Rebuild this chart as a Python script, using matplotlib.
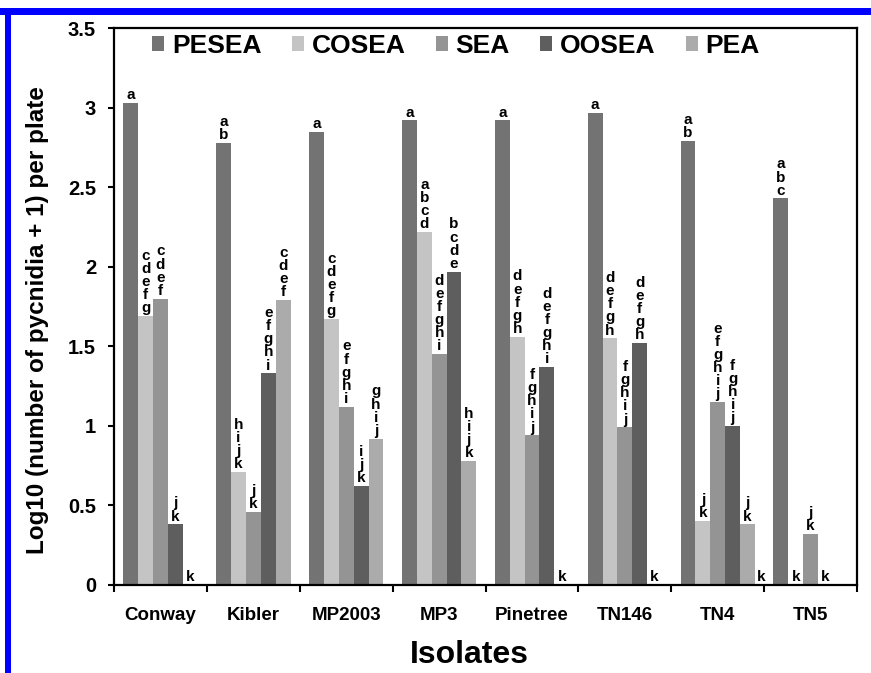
import numpy as np
import matplotlib.pyplot as plt
from matplotlib.patches import Rectangle

isolates = ['Conway', 'Kibler', 'MP2003', 'MP3', 'Pinetree', 'TN146', 'TN4', 'TN5']
media = ['PESEA', 'COSEA', 'SEA', 'OOSEA', 'PEA']
colors = ['#737373', '#c4c4c4', '#949494', '#5e5e5e', '#ababab']

pesea = [3.03, 2.78, 2.85, 2.92, 2.92, 2.97, 2.79, 2.43]
cosea = [1.69, 0.71, 1.67, 2.22, 1.56, 1.55, 0.40, 0.0]
sea = [1.80, 0.46, 1.12, 1.45, 0.94, 0.99, 1.15, 0.32]
oosea = [0.38, 1.33, 0.62, 1.97, 1.37, 1.52, 1.00, 0.0]
pea = [0.0, 1.79, 0.92, 0.78, 0.0, 0.0, 0.38, 0.0]

lab_pesea = ['a', 'ab', 'a', 'a', 'a', 'a', 'ab', 'abc']
lab_cosea = ['cdefg', 'hijk', 'cdefg', 'abcd', 'defgh', 'defgh', 'jk', 'k']
lab_sea = ['cdef', 'jk', 'efghi', 'defghi', 'fghij', 'fghij', 'efghij', 'jk']
lab_oosea = ['jk', 'efghi', 'ijk', 'bcde', 'defghi', 'defgh', 'fghij', 'k']
lab_pea = ['k', 'cdef', 'ghij', 'hijk', 'k', 'k', 'jk', '']

series = [pesea, cosea, sea, oosea, pea]
labels = [lab_pesea, lab_cosea, lab_sea, lab_oosea, lab_pea]

plt.rcParams['font.family'] = ['Liberation Sans', 'DejaVu Sans']
plt.rcParams['font.weight'] = 'bold'

fig = plt.figure(figsize=(8.71, 6.73), dpi=100)
ax = fig.add_axes([0.131, 0.131, 0.853, 0.827])

x = np.arange(len(isolates))
w = 0.16
for i, (vals, labs) in enumerate(zip(series, labels)):
    pos = x + (i - 2) * w
    ax.bar(pos, vals, w, color=colors[i], label=media[i], zorder=2)
    for p, v, l in zip(pos, vals, labs):
        if l:
            ax.text(p, v + 0.005, '\n'.join(l), ha='center', va='bottom',
                    fontsize=11, fontweight='bold', linespacing=0.92, zorder=3)

# stray letter between TN4 and TN5
ax.text(6.47, 0.005, 'k', ha='center', va='bottom', fontsize=11, fontweight='bold')

ax.set_xlim(-0.5, len(isolates) - 0.5)
ax.set_ylim(0, 3.5)
ax.set_yticks(np.arange(0, 3.51, 0.5))
ax.set_yticklabels(['0', '0.5', '1', '1.5', '2', '2.5', '3', '3.5'])
ax.set_xticks(x)
ax.set_xticklabels(isolates)
ax.set_xticks(np.arange(-0.5, len(isolates), 1), minor=True)
ax.tick_params(axis='x', which='major', length=0, pad=16, labelsize=13.5)
ax.tick_params(axis='x', which='minor', length=5, width=1.5, direction='out')
ax.tick_params(axis='y', length=4, width=1.5, labelsize=14.5, pad=9)
for s in ax.spines.values():
    s.set_linewidth(1.6)

ax.set_ylabel('Log10 (number of pycnidia + 1) per plate', fontsize=17.5,
              fontweight='bold')
ax.yaxis.set_label_coords(-0.088, 0.475)
ax.set_xlabel('Isolates', fontsize=23, fontweight='bold')
ax.xaxis.set_label_coords(0.478, -0.1)

ax.legend(loc='upper center', bbox_to_anchor=(0.46, 0.99), ncol=5, frameon=False,
          handlelength=0.45, handleheight=0.45, handletextpad=0.3,
          columnspacing=1.15, borderaxespad=0, borderpad=0,
          prop={'weight': 'bold', 'size': 19})

# blue frame edges of the cropped figure
fig.add_artist(Rectangle((0.0, 1 - 15 / 673), 1.0, 7 / 673, transform=fig.transFigure,
                         color='#0000ff', lw=0))
fig.add_artist(Rectangle((5 / 871, 0.0), 6 / 871, 1 - 9 / 673, transform=fig.transFigure,
                         color='#0000ff', lw=0))

fig.savefig('out.png', dpi=100)
